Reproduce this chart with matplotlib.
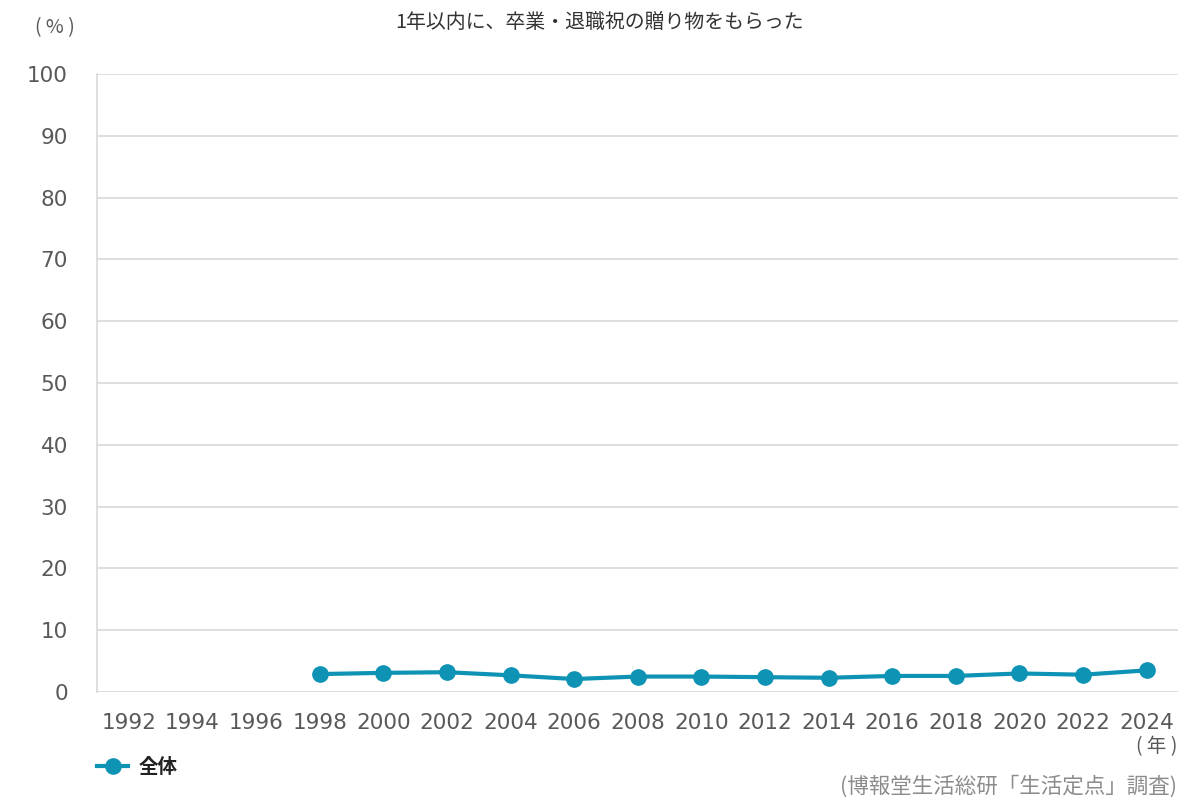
import matplotlib
matplotlib.use("Agg")
import matplotlib.pyplot as plt
from matplotlib.lines import Line2D

plt.rcParams['font.family'] = ['Noto Sans CJK JP', 'DejaVu Sans']

# --- data
years = [str(y) for y in range(1992, 2025, 2)]
values = [None, None, None, 2.9, 3.1, 3.2, 2.7, 2.1, 2.5, 2.5,
          2.4, 2.3, 2.6, 2.6, 3.0, 2.8, 3.5]
yticks = list(range(0, 101, 10))

line_color = "#0e93b5"
text_gray = "#595959"
grid_gray = "#d9d9d9"

fig = plt.figure(figsize=(12, 8), dpi=100)
ax = fig.add_axes([0.081, 0.135, 0.901, 0.7725])

xs = [i for i, v in enumerate(values) if v is not None]
ys = [v for v in values if v is not None]
ax.plot(xs, ys, color=line_color, linewidth=3, marker="o",
        markersize=11, zorder=3)

ax.set_xlim(-0.5, len(years) - 0.5)
ax.set_ylim(0, 100)
ax.set_xticks(range(len(years)))
ax.set_xticklabels(years)
ax.set_yticks(yticks)
ax.tick_params(axis="both", length=0, labelsize=15.5, labelcolor=text_gray)
ax.tick_params(axis="y", pad=21)
ax.tick_params(axis="x", pad=15)
for lab in ax.get_xticklabels() + ax.get_yticklabels():
    lab.set_family(["DejaVu Sans"])
ax.grid(axis="y", color=grid_gray, linewidth=1.2)
ax.set_axisbelow(True)
for side in ("top", "right", "bottom"):
    ax.spines[side].set_visible(False)
ax.spines["left"].set_color(grid_gray)
ax.spines["left"].set_linewidth(1.2)

# --- texts
fig.text(0.5, 0.972, "1年以内に、卒業・退職祝の贈り物をもらった",
         ha="center", va="center", fontsize=14.3, color="#333333")
fig.text(0.046, 0.965, "( % )", ha="center", va="center",
         fontsize=14, color=text_gray)
fig.text(0.981, 0.067, "( 年 )", ha="right", va="center",
         fontsize=14, color=text_gray)
fig.text(0.981, 0.017, "(博報堂生活総研「生活定点」調査)", ha="right", va="center",
         fontsize=15.5, color="#8c8c8c")

# --- legend
handle = Line2D([], [], color=line_color, linewidth=3, marker="o", markersize=11)
leg = fig.legend([handle], ["全体"], loc="center left",
                 bbox_to_anchor=(0.081, 0.041), frameon=False, borderpad=0,
                 borderaxespad=0, handlelength=1.6, handletextpad=0.55,
                 prop={"size": 14, "weight": "bold"})
for t in leg.get_texts():
    t.set_color("#222222")

fig.savefig("out.png", dpi=100, facecolor="white")
